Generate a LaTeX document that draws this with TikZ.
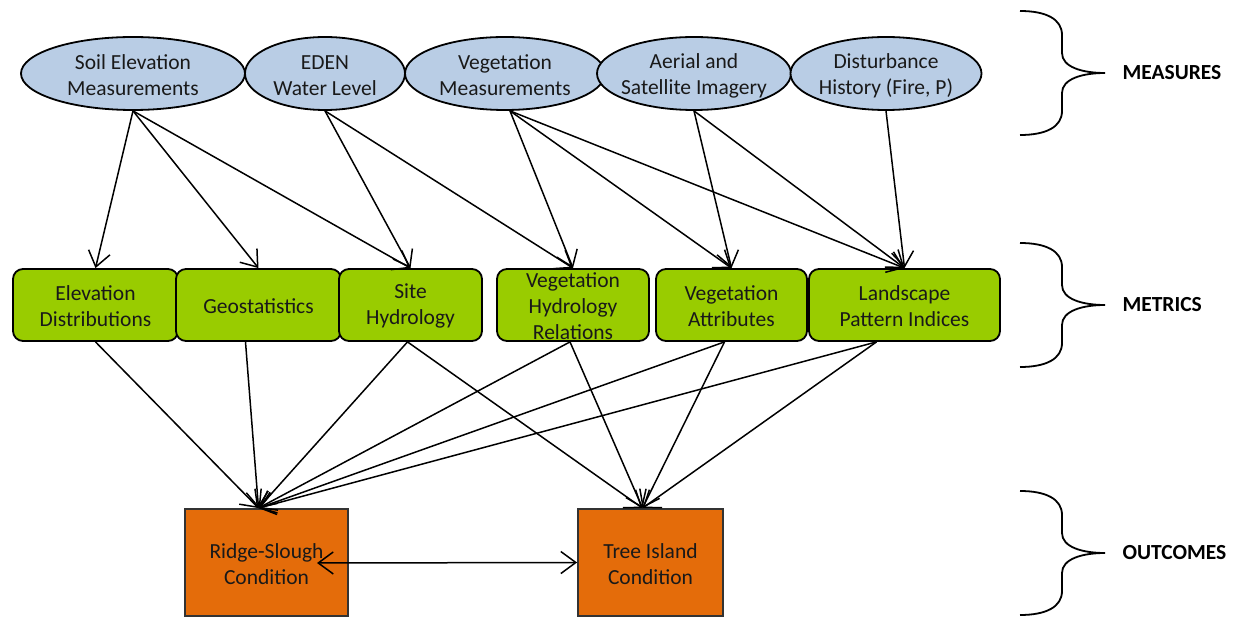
\documentclass[tikz,border=0pt]{standalone}
\usepackage{fontspec}
\setmainfont{Carlito}
\usetikzlibrary{shapes.geometric,arrows.meta,calc}
\definecolor{measfill}{HTML}{B9CDE5}
\definecolor{metricfill}{HTML}{99CC00}
\definecolor{outfill}{HTML}{E46C0A}
\newcommand\mybrace[1]{%
  \draw[bracestyle] (1020,#1-62) .. controls (1046,#1-62) and (1062,#1-54) .. (1062,#1-38)
    -- (1062,#1-20) .. controls (1062,#1-6) and (1082,#1) .. (1105,#1)
    .. controls (1082,#1) and (1062,#1+6) .. (1062,#1+20)
    -- (1062,#1+38) .. controls (1062,#1+54) and (1046,#1+62) .. (1020,#1+62);}
\begin{document}
\begin{tikzpicture}[x=1pt,y=-1pt,
  txt/.style={align=center,font=\fontsize{21.5}{26}\selectfont,text=black!90},
  meas/.style={ellipse,draw=black,line width=1.8pt,fill=measfill,inner sep=0pt,minimum height=73pt},
  metric/.style={rectangle,rounded corners=10pt,draw=black,line width=1.8pt,fill=metricfill,inner sep=0pt,minimum height=72pt},
  outc/.style={rectangle,draw=black!80,line width=1.8pt,fill=outfill,inner sep=0pt,minimum height=107pt},
  conn/.style={line width=1.5pt,-{Straight Barb[length=15pt,width=22pt]}},
  biconn/.style={line width=1.5pt,{Straight Barb[length=15pt,width=22pt]}-{Straight Barb[length=15pt,width=22pt]}},
  cat/.style={font=\bfseries\fontsize{21.5}{26}\selectfont,anchor=west},
  bracestyle/.style={line width=1.8pt}]
\useasboundingbox (0,0) rectangle (1235,617);
% measures
\node[meas,minimum width=224pt] (e1) at (133,73.5) {};
\node[meas,minimum width=160pt] (e2) at (325,73.5) {};
\node[meas,minimum width=200pt] (e3) at (505,73.5) {};
\node[meas,minimum width=194pt] (e4) at (694,73.5) {};
\node[meas,minimum width=191pt] (e5) at (886,73.5) {};
\node[txt] (t1) at ($(e1)+(0,2)$) {Soil Elevation\\Measurements};
\node[txt] (t2) at ($(e2)+(0,2)$) {EDEN\\Water Level};
\node[txt] (t3) at ($(e3)+(0,2)$) {Vegetation\\Measurements};
\node[txt] (t4) at ($(e4)+(0,2)$) {Aerial and\\Satellite Imagery};
\node[txt] (t5) at ($(e5)+(0,2)$) {Disturbance\\History (Fire, P)};
% metrics
\node[metric,minimum width=165pt] (m1) at (95.5,305) {};
\node[metric,minimum width=165pt] (m2) at (258.5,305) {};
\node[metric,minimum width=143pt] (m3) at (410.5,305) {};
\node[metric,minimum width=152pt] (m4) at (573,305) {};
\node[metric,minimum width=151pt] (m5) at (731.5,305) {};
\node[metric,minimum width=191pt] (m6) at (904.5,305) {};
\node[txt] (u1) at ($(m1)+(0,1)$) {Elevation\\Distributions};
\node[txt] (u2) at ($(m2)+(0,1)$) {Geostatistics};
\node[txt] (u3) at ($(m3)+(0,1)$) {Site\\Hydrology};
\node[txt] (u4) at ($(m4)+(0,1)$) {Vegetation\\Hydrology\\Relations};
\node[txt] (u5) at ($(m5)+(0,1)$) {Vegetation\\Attributes};
\node[txt] (u6) at ($(m6)+(0,1)$) {Landscape\\Pattern Indices};
% outcomes
\node[outc,minimum width=163pt] (rs) at (266.5,562.5) {};
\node[outc,minimum width=145pt] (ti) at (650.5,562.5) {};
\node[txt] (v1) at ($(rs)+(0,2)$) {Ridge-Slough\\Condition};
\node[txt] (v2) at ($(ti)+(0,2)$) {Tree Island\\Condition};
% measure -> metric
\draw[conn] (e1.south) -- (m1.north);
\draw[conn] (e1.south) -- (m2.north);
\draw[conn] (e1.south) -- (m3.north);
\draw[conn] (e2.south) -- (m3.north);
\draw[conn] (e2.south) -- (m4.north);
\draw[conn] ($(e3.south)+(5,0)$) -- (m4.north);
\draw[conn] ($(e3.south)+(5,0)$) -- (m5.north);
\draw[conn] ($(e3.south)+(5,0)$) -- (m6.north);
\draw[conn] (e4.south) -- (m5.north);
\draw[conn] (e4.south) -- (m6.north);
\draw[conn] (e5.south) -- (m6.north);
% metric -> outcome
\coordinate (rstop) at ($(rs.north)+(-8,0)$);
\coordinate (titop) at ($(ti.north)+(-8,0)$);
\draw[conn] (m1.south) -- (rstop);
\draw[conn] ($(m2.south)+(-13,0)$) -- (rstop);
\draw[conn] ($(m3.south)+(-3,0)$) -- (rstop);
\draw[conn] ($(m4.south)+(-3,0)$) -- (rstop);
\draw[conn] ($(m5.south)+(-7,0)$) -- (rstop);
\draw[conn] ($(m6.south)+(-28,0)$) -- (rstop);
\draw[conn] ($(m3.south)+(-3,0)$) -- (titop);
\draw[conn] ($(m4.south)+(-3,0)$) -- (titop);
\draw[conn] ($(m5.south)+(-7,0)$) -- (titop);
\draw[conn] ($(m6.south)+(-28,0)$) -- (titop);
% outcome <-> outcome
\coordinate (rsin) at (317,563);
\draw[biconn] (rsin) -- (ti.west);
% braces and categories
\mybrace{73}
\mybrace{305}
\mybrace{553}
\node[cat] (c1) at (1119,73) {MEASURES};
\node[cat] (c2) at (1119,305) {METRICS};
\node[cat] (c3) at (1119,553) {OUTCOMES};
\end{tikzpicture}
\end{document}
